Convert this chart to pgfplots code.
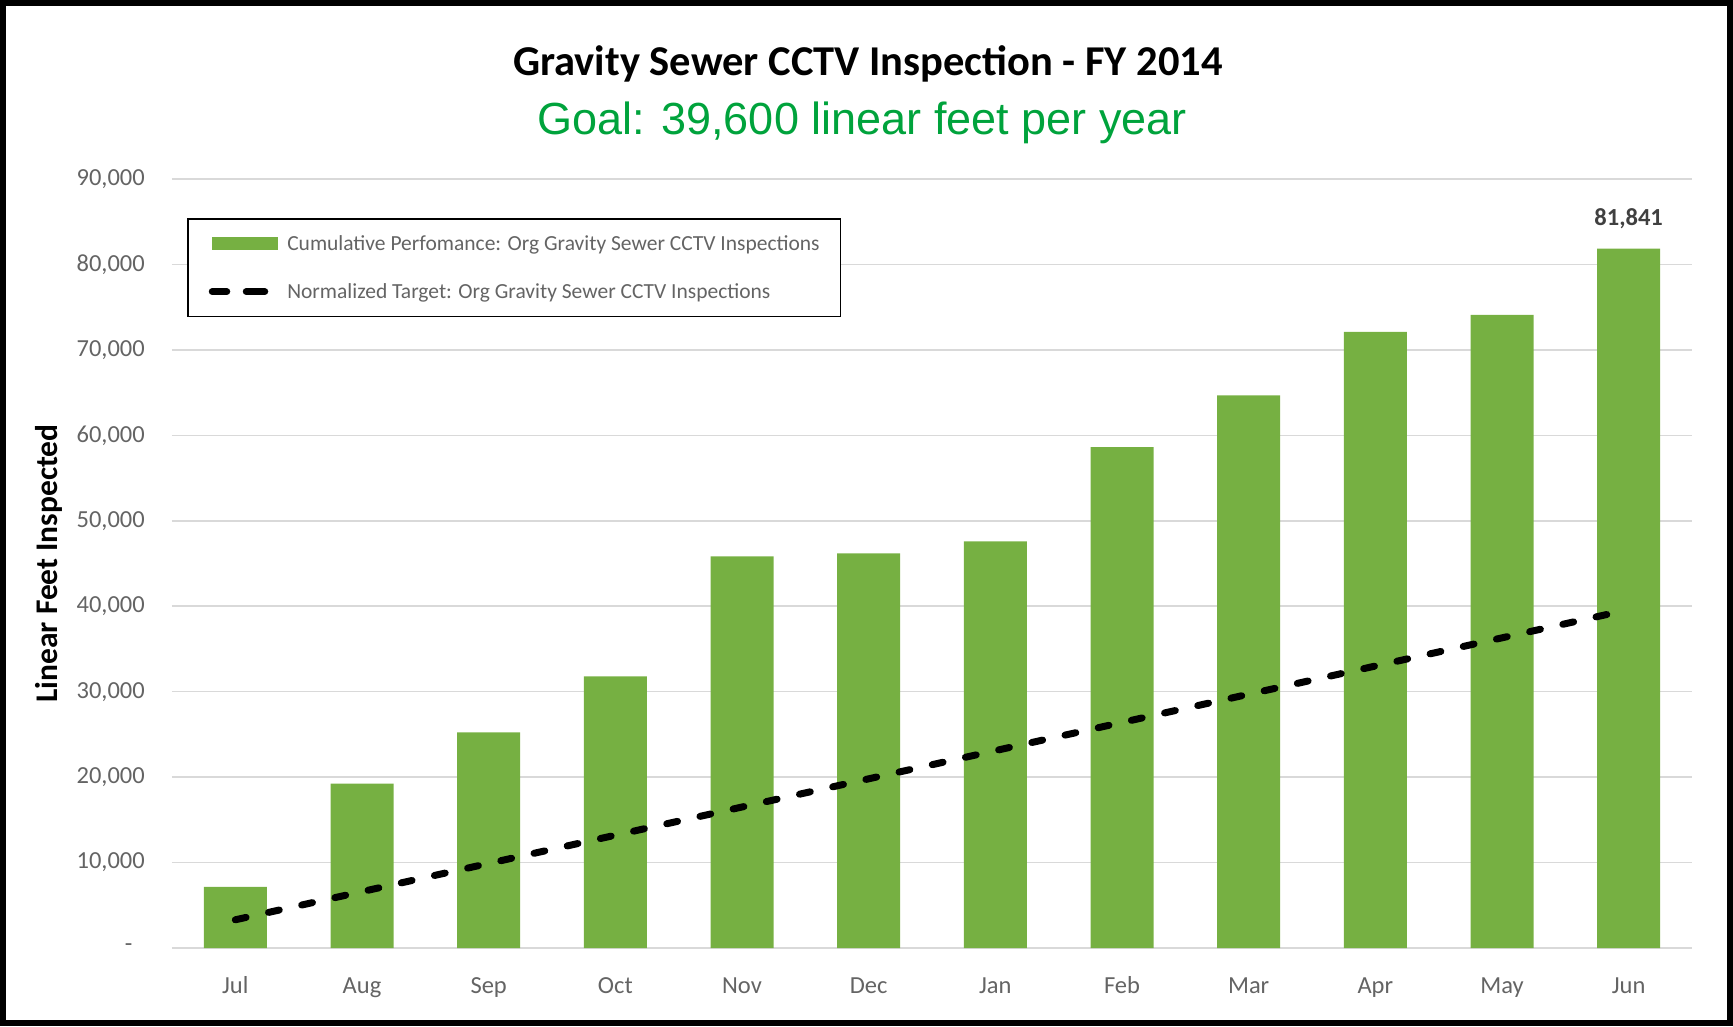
\documentclass[border=0pt]{standalone}
\usepackage{pgfplots}
\pgfplotsset{compat=1.18}
\usepackage{fontspec}
\setmainfont{Carlito}
\newfontfamily\arialfont{Liberation Sans}
\definecolor{barGreen}{RGB}{118,176,66}
\definecolor{goalGreen}{RGB}{0,163,60}
\definecolor{tickGray}{RGB}{100,100,100}
\definecolor{gridGray}{RGB}{217,217,217}
\definecolor{labelGray}{RGB}{64,64,64}
\begin{document}
\begin{tikzpicture}[x=1pt,y=1pt]
\path[use as bounding box] (0,0) rectangle (1733,1026);
\draw[line width=6pt] (3,3) rectangle (1730,1023);
\begin{axis}[
  at={(172pt,78pt)}, anchor=south west,
  scale only axis, width=1520pt, height=769pt,
  xmin=-0.5, xmax=11.5, ymin=0, ymax=90000,
  xtick={0,...,11},
  xticklabels={Jul,Aug,Sep,Oct,Nov,Dec,Jan,Feb,Mar,Apr,May,Jun},
  ytick={0,10000,20000,30000,40000,50000,60000,70000,80000,90000},
  yticklabels={{-\hphantom{0}},{10,000},{20,000},{30,000},{40,000},{50,000},{60,000},{70,000},{80,000},{90,000}},
  scaled y ticks=false,
  ymajorgrids, grid style={gridGray, line width=1.5pt},
  axis line style={draw=none},
  tick style={draw=none},
  major tick length=0pt,
  tick label style={font=\fontsize{24.5}{29}\selectfont, text=tickGray},
  yticklabel style={anchor=east, inner sep=0pt, xshift=-27pt},
  xticklabel style={anchor=base, inner sep=0pt, yshift=-45pt},
  ylabel={Linear Feet Inspected},
  every axis y label/.style={at={(axis description cs:-0.081,0.5)}, rotate=90, anchor=center, font=\fontsize{31.5}{36}\selectfont\bfseries},
  legend cell align=left,
  legend style={at={(axis description cs:0.00987,0.949)}, anchor=north west,
    draw=black, line width=1.5pt, inner xsep=21pt, inner ysep=16.5pt,
    font=\fontsize{21.5}{25}\selectfont, text=tickGray,
    row sep=31.5pt,
    nodes={inner sep=0pt},
    /tikz/every odd column/.append style={column sep=5.5pt}},
]
\addplot[ybar, bar width=63pt, fill=barGreen, draw=none,
  legend image code/.code={\fill[barGreen] (0pt,-6.5pt) rectangle (66pt,6.5pt);}]
  coordinates {(0,7150) (1,19230) (2,25240) (3,31800) (4,45840) (5,46190)
               (6,47600) (7,58620) (8,64670) (9,72100) (10,74090) (11,81841)};
\addlegendentry{Cumulative Perfomance: Org Gravity Sewer CCTV Inspections}
\addplot[black, line width=7pt, line cap=round, dash pattern=on 11pt off 23pt,
  legend image code/.code={\path (0pt,0pt) -- (66pt,0pt);
    \draw[black, line width=7pt, line cap=round, dash pattern=on 11pt off 27pt] (3.5pt,0pt) -- (56pt,0pt);}]
  coordinates {(0,3300) (1,6600) (2,9900) (3,13200) (4,16500) (5,19800)
               (6,23100) (7,26400) (8,29700) (9,33000) (10,36300) (11,39600)};
\addlegendentry{Normalized Target: Org Gravity Sewer CCTV Inspections}
\addplot[draw=none, forget plot, nodes near coords={\textbf{81,841}},
  every node near coord/.style={anchor=center, yshift=30pt, text=labelGray, font=\fontsize{24.5}{29}\selectfont}]
  coordinates {(11,81841)};
\end{axis}
\node[font=\fontsize{42.5}{50}\selectfont\bfseries] at (868,962) {Gravity Sewer CCTV Inspection - FY 2014};
\node[font=\arialfont\fontsize{45}{54}\selectfont, text=goalGreen] at (862,903) {Goal: 39,600 linear feet per year};
\end{tikzpicture}
\end{document}
